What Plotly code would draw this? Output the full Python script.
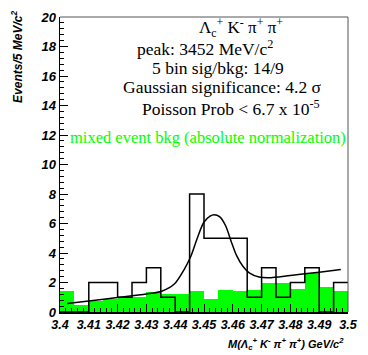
import plotly.graph_objects as go

# ---------------- data ----------------
bin_low = [3.400, 3.405, 3.410, 3.415, 3.420, 3.425, 3.430, 3.435, 3.440, 3.445,
           3.450, 3.455, 3.460, 3.465, 3.470, 3.475, 3.480, 3.485, 3.490, 3.495]
bin_width = 0.005
data_counts = [0, 0, 2, 2, 1, 2, 3, 1, 0, 8, 5, 5, 5, 1, 3, 1, 2, 3, 0, 2]
mixed_bkg = [1.4, 0.47, 0.75, 0.85, 0.95, 1.05, 1.35, 1.25, 1.25, 1.4,
             0.9, 1.52, 1.4, 1.5, 2.0, 2.0, 1.57, 2.63, 1.68, 1.4]
fit_x = [3.4025, 3.41, 3.42, 3.43, 3.4353, 3.4397, 3.4431, 3.4454, 3.4476, 3.4499,
         3.4521, 3.4535, 3.4555, 3.4575, 3.4595, 3.4612, 3.4635, 3.4657, 3.4691,
         3.4725, 3.48, 3.49, 3.4975]
fit_y = [0.57, 0.75, 0.98, 1.22, 1.41, 1.9, 2.88, 3.76, 4.97, 6.07,
         6.5, 6.6, 6.45, 5.85, 4.75, 3.87, 3.1, 2.66, 2.38,
         2.33, 2.48, 2.7, 2.88]
x_tickvals = [3.40, 3.41, 3.42, 3.43, 3.44, 3.45, 3.46, 3.47, 3.48, 3.49, 3.50]
x_ticktext = ["3.4", "3.41", "3.42", "3.43", "3.44", "3.45", "3.46", "3.47", "3.48", "3.49", "3.5"]
y_tickvals = [0, 2, 4, 6, 8, 10, 12, 14, 16, 18, 20]
y_ticktext = ["0", "2", "4", "6", "8", "10", "12", "14", "16", "18", "20"]

# ---------------- geometry ----------------
W, H = 368, 355
L, R, T, B = 60, 14, 10, 43
PW, PH = W - L - R, H - T - B


def px(x):
    return (x - L) / PW


def py(y):
    return (H - B - y) / PH


# step outline for data histogram
step_x = bin_low + [bin_low[-1] + bin_width]
step_y = data_counts + [data_counts[-1]]
bin_centers = [b + bin_width / 2 for b in bin_low]

fig = go.Figure()
fig.add_trace(go.Bar(x=bin_centers, y=mixed_bkg, width=bin_width,
                     marker=dict(color="#00ff00", line=dict(width=0)),
                     hoverinfo="skip"))
fig.add_trace(go.Scatter(x=step_x, y=step_y, mode="lines",
                         line=dict(color="black", width=1.5, shape="hv"),
                         hoverinfo="skip"))
fig.add_trace(go.Scatter(x=fit_x, y=fit_y, mode="lines",
                         line=dict(color="black", width=1.5, shape="spline", smoothing=0.8),
                         hoverinfo="skip"))

tickfont = dict(family="Liberation Sans, Arial, sans-serif", size=13,
                color="black", weight="bold", style="italic")
serif = "Liberation Serif, Times New Roman, serif"

fig.update_layout(
    width=W, height=H,
    margin=dict(l=L, r=R, t=T, b=B, pad=0),
    paper_bgcolor="white", plot_bgcolor="white",
    showlegend=False, bargap=0,
    xaxis=dict(range=[3.4, 3.5], tickvals=x_tickvals, ticktext=x_ticktext,
               ticks="inside", ticklen=8, tickwidth=1, tickcolor="black",
               showline=True, linecolor="black", linewidth=1.5,
               showgrid=False, zeroline=False, tickfont=dict(tickfont, size=12.5),
               minor=dict(dtick=0.002, tick0=3.4, ticks="inside", ticklen=4,
                          tickcolor="black", showgrid=False)),
    yaxis=dict(range=[0, 20], tickvals=y_tickvals, ticktext=y_ticktext,
               ticks="inside", ticklen=8, tickwidth=1, tickcolor="black",
               showline=True, linecolor="black", linewidth=1.5,
               showgrid=False, zeroline=False, tickfont=tickfont,
               minor=dict(dtick=0.4, tick0=0, ticks="inside", ticklen=4,
                          tickcolor="black", showgrid=False)),
    shapes=[dict(type="line", xref="paper", yref="paper", x0=0, x1=1, y0=1, y1=1,
                 line=dict(color="#555555", width=1)),
            dict(type="line", xref="paper", yref="paper", x0=1, x1=1, y0=0, y1=1,
                 line=dict(color="#555555", width=1))],
)

annots = [
    ("Λ<sub>c</sub><sup>+</sup> K<sup>-</sup> π<sup>+</sup> π<sup>+</sup>", 200, 21, "black", 17),
    ("peak: 3452 MeV/c<sup>2</sup>", 137, 42, "black", 17.5),
    ("5 bin sig/bkg: 14/9", 152, 62, "black", 17.5),
    ("Gaussian significance: 4.2 σ", 122, 82, "black", 17.5),
    ("Poisson Prob &lt; 6.7 x 10<sup>-5</sup>", 142, 103, "black", 17.5),
    ("mixed event bkg (absolute normalization)", 68, 133, "#00ff00", 16.5),
]
for text, x, y, col, sz in annots:
    fig.add_annotation(text=text, xref="paper", yref="paper", x=px(x), y=py(y),
                       xanchor="left", yanchor="middle", showarrow=False,
                       font=dict(family=serif, size=sz, color=col))

fig.add_annotation(text="M(Λ<sub>c</sub><sup>+</sup> K<sup>-</sup> π<sup>+</sup> π<sup>+</sup>) GeV/c<sup>2</sup>",
                   xref="paper", yref="paper", x=px(352), y=py(345),
                   xanchor="right", yanchor="middle", showarrow=False,
                   font=dict(family="Liberation Sans, Arial, sans-serif", size=11,
                             color="black", weight="bold", style="italic"))
fig.add_annotation(text="Events/5 MeV/c<sup>2</sup>", textangle=-90,
                   xref="paper", yref="paper", x=px(16), y=py(51),
                   xanchor="center", yanchor="middle", showarrow=False,
                   font=dict(family="Liberation Sans, Arial, sans-serif", size=12,
                             color="black", weight="bold", style="italic"))

fig.write_html("out.html", config={"displayModeBar": False, "staticPlot": True},
               post_script="document.body.style.margin='0px';document.body.style.overflow='hidden';")
